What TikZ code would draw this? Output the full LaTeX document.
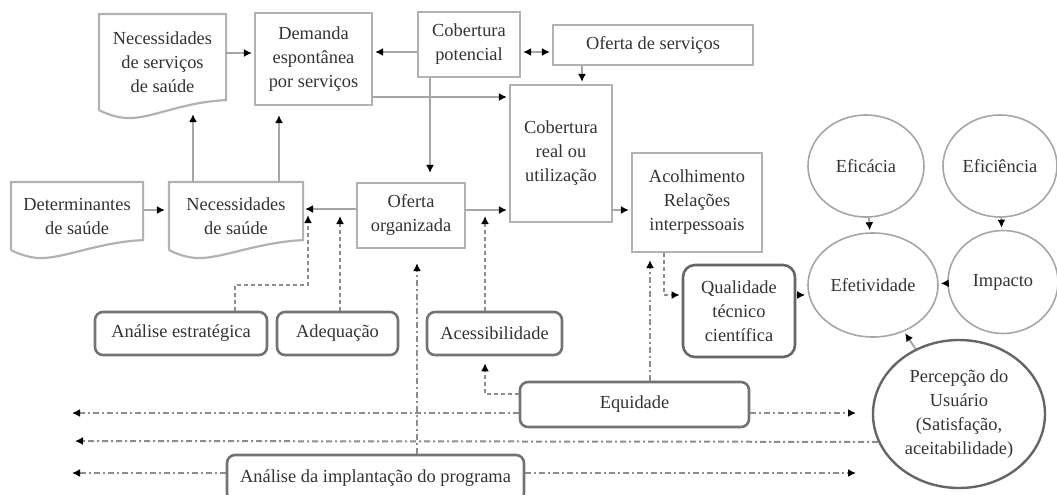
\documentclass[tikz,border=0pt]{standalone}
\usepackage{fontspec}
\setmainfont{Liberation Serif}
\usetikzlibrary{calc,arrows.meta,shapes.geometric}

\tikzset{
  box/.style={draw=black!30, line width=1.1pt, align=center, inner sep=1pt,
    font=\fontsize{9.2}{12}\selectfont, text=black!80},
  doc/.style={box, draw=none},
  rbox/.style={box, draw=black!55, line width=1.3pt, rounded corners=4pt},
  oval/.style={ellipse, draw=black!35, line width=0.8pt, align=center, inner sep=0pt,
    font=\fontsize{9.2}{12}\selectfont, text=black!80},
  link/.style={->, draw=black!35, line width=1pt, shorten >=1pt},
  dotlink/.style={link, draw=black!45, dash pattern=on 2pt off 1.5pt},
  dashdotlink/.style={link, draw=black!45, dash pattern=on 3pt off 1.5pt on 1pt off 1.5pt},
}
% wavy bottom of the document boxes
\newcommand\docpath[1]{%
  \draw[draw=black!30, line width=1.1pt] (#1.south west) -- (#1.north west) -- (#1.north east)
    -- ([yshift=5pt]#1.south east)
    .. controls +(-22pt,-1pt) and +(12pt,0pt) .. ([xshift=15pt,yshift=-4pt]#1.south west)
    .. controls +(-6pt,0pt) and +(3pt,-1.5pt) .. (#1.south west);}

\begin{document}
\begin{tikzpicture}[x=0.5pt,y=-0.5pt,>={Latex[color=black,length=4pt,width=4pt]}]
  \useasboundingbox (0,0) rectangle (1057,494);
  \clip (0,0) rectangle (1057,494);

  % upper part
  \node[doc, minimum width=62.5pt, minimum height=47pt] (necserv) at (162.5,62) {Necessidades\\de serviços\\de saúde};
  \node[box, minimum width=58.5pt, minimum height=46pt] (demanda) at (313.5,59) {Demanda\\espontânea\\por serviços};
  \node[box, minimum width=51pt, minimum height=32.5pt] (cobpot) at (469,44.5) {Cobertura\\potencial};
  \node[box, minimum width=100pt, minimum height=20pt] (ofserv) at (653,45) {Oferta de serviços};
  \node[box, minimum width=51pt, minimum height=68.5pt] (cobreal) at (561,153.5) {Cobertura\\real ou\\utilização};
  \node[box, minimum width=65pt, minimum height=49.5pt] (acolh) at (697,202.5) {Acolhimento\\Relações\\interpessoais};
  \node[doc, minimum width=65pt, minimum height=33pt] (determ) at (77,216) {Determinantes\\de saúde};
  \node[doc, minimum width=66pt, minimum height=33pt] (necsaude) at (236,216) {Necessidades\\de saúde};
  \node[box, minimum width=54pt, minimum height=32.5pt] (oforg) at (411,215.5) {Oferta\\organizada};
  \docpath{necserv}
  \docpath{determ}
  \docpath{necsaude}

  % lower part
  \node[rbox, minimum width=86pt, minimum height=21.5pt] (anest) at (181,333.5) {Análise estratégica};
  \node[rbox, minimum width=60.5pt, minimum height=21.5pt] (adeq) at (337.5,333.5) {Adequação};
  \node[rbox, minimum width=67.5pt, minimum height=21.5pt] (acess) at (494.5,333.5) {Acessibilidade};
  \node[rbox, draw=black!60, rounded corners=6pt, minimum width=56pt, minimum height=46pt] (qualid) at (739,311) {Qualidade\\técnico\\científica};
  \node[rbox, minimum width=114.5pt, minimum height=22.5pt] (equid) at (634.5,404.5) {Equidade};
  \node[rbox, minimum width=148.5pt, minimum height=23pt] (implant) at (375.5,478) {Análise da implantação do programa};

  % results
  \node[oval, minimum width=58pt, minimum height=51pt] (eficacia) at (866,166) {Eficácia};
  \node[oval, minimum width=57pt, minimum height=51pt] (eficiencia) at (1000,166) {Eficiência};
  \node[oval, minimum width=65pt, minimum height=52pt] (efetiv) at (873,285) {Efetividade};
  \node[oval, minimum width=55pt, minimum height=51.5pt] (impacto) at (1003,282) {Impacto};
  \node[oval, draw=black!60, line width=1.2pt, minimum width=86pt, minimum height=74pt] (percep) at (959,414)
    {Percepção do\\Usuário\\(Satisfação,\\aceitabilidade)};

  \coordinate (hitA) at (308,213);
  \coordinate (hitB) at (340,214);
  \coordinate (hitC) at (485,214);
  \coordinate (endL1) at (70,413);
  \coordinate (endL2) at (73,441);
  \coordinate (endL3) at (70,473);
  \coordinate (endR1) at (858,413);
  \coordinate (endR3) at (858,473);

  % solid connectors
  \draw[link] (necserv.east |- 0,53) -- (demanda.west |- 0,53);
  \draw[link] (cobpot.west |- 0,52) -- (demanda.east |- 0,52);
  \draw[link, <->, shorten <=1pt] (cobpot.east |- 0,52) -- (ofserv.west |- 0,52);
  \draw[link] (ofserv.south -| 582,0) -- (cobreal.north -| 582,0);
  \draw[link] (demanda.east |- 0,97) -- (cobreal.west |- 0,97);
  \draw[link, shorten >=4.5pt] (cobpot.south -| 430,0) -- (oforg.north -| 430,0);
  \draw[link, shorten >=2pt] (necsaude.north -| 193,0) -- (necserv.south -| 193,0);
  \draw[link, shorten >=4.5pt] (necsaude.north -| 279,0) -- (demanda.south -| 279,0);
  \draw[link, shorten >=2pt] (determ.east |- 0,210) -- (necsaude.west |- 0,210);
  \draw[link] (oforg.west |- 0,209) -- (necsaude.east |- 0,209);
  \draw[link] (oforg.east |- 0,210) -- (cobreal.west |- 0,210);
  \draw[link] (cobreal.east |- 0,210) -- (acolh.west |- 0,210);
  \draw[link] (qualid.east |- 0,295) -- (efetiv.west |- 0,295);
  \draw[link] (eficacia) -- (efetiv);
  \draw[link] (eficiencia) -- (impacto);
  \draw[link] (impacto) -- (efetiv);
  \draw[link] (percep) -- (efetiv);

  % dotted connectors
  \draw[dotlink] (anest.north -| 235,0) |- (308,285) -- (hitA);
  \draw[dotlink] (adeq.north -| 340,0) -- (hitB);
  \draw[dotlink] (acess.north -| 485,0) -- (hitC);
  \draw[dotlink, shorten >=3.5pt] (equid.west |- 0,394) -| (acess.south -| 485,0);
  \draw[dotlink] (acolh.south -| 664,0) |- (qualid.west |- 0,295);
  \draw[dashdotlink, shorten >=3.5pt] (equid.north -| 650,0) -- (acolh.south -| 650,0);
  \draw[dashdotlink, shorten >=7pt] (implant.north -| 417,0) -- (oforg.south -| 417,0);
  \draw[dashdotlink] (equid.west |- 0,413) -- (endL1);
  \draw[dashdotlink] (equid.east |- 0,413) -- (endR1);
  \draw[dashdotlink] (percep.199) -- (endL2);
  \draw[dashdotlink] (implant.west |- 0,473) -- (endL3);
  \draw[dashdotlink] (implant.east |- 0,473) -- (endR3);
\end{tikzpicture}
\end{document}
